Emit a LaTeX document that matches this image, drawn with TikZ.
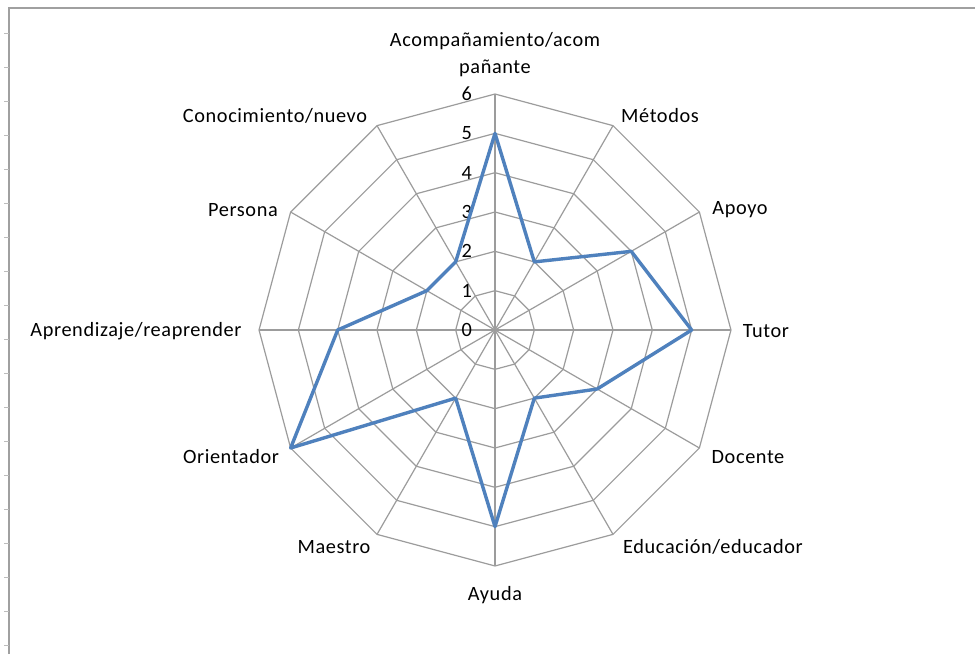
\documentclass[tikz,border=0pt]{standalone}
\usepackage{fontspec}
\setmainfont[LetterSpace=3]{Carlito}
\definecolor{gridgray}{HTML}{9C9C9C}
\definecolor{framegray}{HTML}{A0A0A0}
\definecolor{serblue}{HTML}{4F81BD}
\begin{document}
\begin{tikzpicture}[x=1pt,y=1pt,
  gridline/.style={draw=gridgray,line width=1.2pt},
  lbl/.style={font=\fontsize{20.3}{27}\selectfont,inner sep=0pt,align=center},
  ticklbl/.style={font=\fontsize{20.3}{24}\selectfont,anchor=east,inner sep=0pt},
  series/.style={draw=serblue,line width=3.4pt,line join=round}]
\useasboundingbox (0,0) rectangle (975,-654);
\fill[white] (0,0) rectangle (975,-654);
% frame
\draw[framegray,line width=2.2pt] (9,-654) -- (9,-8) -- (975,-8);
\foreach \yy in {33,67,...,645} \draw[framegray!70,line width=1pt] (4,-\yy) -- (9,-\yy);
\begin{scope}[shift={(495,-330)}]
  \def\u{39.33}
  \foreach \k in {1,...,6}
    \draw[gridline] (0:\k*\u) \foreach \a in {30,60,...,330} { -- (\a:\k*\u) } -- cycle;
  \foreach \a in {0,30,...,330} \draw[gridline] (0,0) -- (\a:6*\u);
  \foreach \k in {0,...,6} \node[ticklbl] (t\k) at (-23,\k*\u) {\k};
  % data points
  \coordinate (d1) at (90:5*\u);
  \coordinate (d2) at (60:2*\u);
  \coordinate (d3) at (30:4*\u);
  \coordinate (d4) at (0:5*\u);
  \coordinate (d5) at (-30:3*\u);
  \coordinate (d6) at (-60:2*\u);
  \coordinate (d7) at (-90:5*\u);
  \coordinate (d8) at (-120:2*\u);
  \coordinate (d9) at (-150:6*\u);
  \coordinate (d10) at (180:4*\u);
  \coordinate (d11) at (150:2*\u);
  \coordinate (d12) at (120:2*\u);
  \draw[series] (d1) -- (d2) -- (d3) -- (d4) -- (d5) -- (d6) -- (d7) -- (d8) -- (d9) -- (d10) -- (d11) -- (d12) -- cycle;
\end{scope}
% category labels
\node[lbl] (c1) at (495,-55) {Acompañamiento/acom\\pañante};
\node[lbl] (c2) at (660,-116) {Métodos};
\node[lbl] (c3) at (740,-210) {Apoyo};
\node[lbl] (c4) at (766,-331) {Tutor};
\node[lbl] (c5) at (748,-457) {Docente};
\node[lbl] (c6) at (713,-547) {Educación/educador};
\node[lbl] (c7) at (495,-595) {Ayuda};
\node[lbl] (c8) at (334,-547) {Maestro};
\node[lbl] (c9) at (231,-457) {Orientador};
\node[lbl] (c10) at (136,-331) {Aprendizaje/reaprender};
\node[lbl] (c11) at (243,-210) {Persona};
\node[lbl] (c12) at (275,-116) {Conocimiento/nuevo};
\end{tikzpicture}
\end{document}
